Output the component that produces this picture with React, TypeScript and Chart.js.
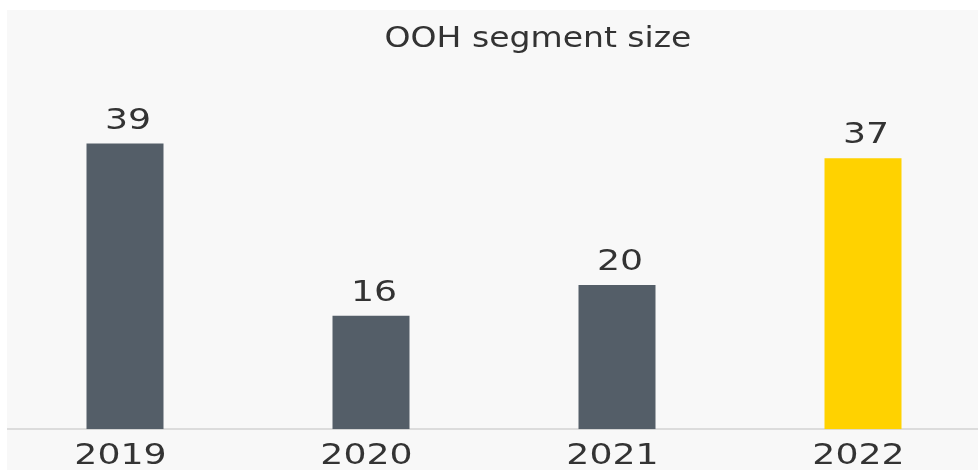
import React, { useEffect, useRef } from "react";
import { Chart, registerables } from "chart.js";

Chart.register(...registerables);

const categories = ["2019", "2020", "2021", "2022"];
const segmentSize = [39, 15.5, 19.7, 37];
const valueLabels = ["39", "16", "20", "37"];
const barColors = ["#545e68", "#545e68", "#545e68", "#ffd200"];
const chartTitle = "OOH segment size";

const FONT = "'DejaVu Sans', sans-serif";
const WIDE = 1.25;
const TITLE_WIDE = 1.18;

function wideText(ctx: any, text: string, x: number, y: number, k: number) {
  ctx.save();
  ctx.translate(x, y);
  ctx.scale(k, 1);
  ctx.fillText(text, 0, 0);
  ctx.restore();
}

const titlePlugin = {
  id: "customTitle",
  afterDraw(chart: any) {
    const ctx = chart.ctx;
    ctx.save();
    ctx.font = `28px ${FONT}`;
    ctx.fillStyle = "#333333";
    ctx.textAlign = "center";
    ctx.textBaseline = "alphabetic";
    wideText(ctx, chartTitle, chart.width / 2 + 44, 37, TITLE_WIDE);
    ctx.restore();
  },
};

const labelsPlugin = {
  id: "wideLabels",
  afterDatasetsDraw(chart: any) {
    const ctx = chart.ctx;
    const meta = chart.getDatasetMeta(0);
    const xScale = chart.scales.x;
    ctx.save();
    ctx.font = `29px ${FONT}`;
    ctx.fillStyle = "#333333";
    ctx.textAlign = "center";
    ctx.textBaseline = "alphabetic";
    meta.data.forEach((bar: any, i: number) => {
      wideText(ctx, valueLabels[i], bar.x + 3, bar.y - 15, WIDE);
    });
    categories.forEach((c, i) => {
      wideText(ctx, c, xScale.getPixelForTick(i) - 4.5, chart.chartArea.bottom + 35, WIDE);
    });
    ctx.restore();
  },
};

export default function App() {
  const canvasRef = useRef<HTMLCanvasElement | null>(null);

  useEffect(() => {
    if (!canvasRef.current) return;
    const chart = new Chart(canvasRef.current, {
      type: "bar",
      data: {
        labels: categories,
        datasets: [
          {
            data: segmentSize,
            backgroundColor: barColors,
            categoryPercentage: 1,
            barPercentage: 0.313,
          },
        ],
      },
      options: {
        animation: false,
        responsive: false,
        maintainAspectRatio: false,
        layout: { padding: { top: 53, left: 0, right: 0, bottom: 0 } },
        plugins: {
          legend: { display: false },
          title: { display: false },
          tooltip: { enabled: false },
        },
        scales: {
          x: {
            grid: { display: false },
            border: { display: true, color: "#dcdcdc", width: 2 },
            ticks: {
              color: "rgba(0,0,0,0)",
              font: { family: FONT, size: 29 },
              padding: 0,
              autoSkip: false,
              maxRotation: 0,
            },
          },
          y: {
            display: false,
            min: 0,
            max: 50,
          },
        },
      },
      plugins: [titlePlugin, labelsPlugin],
    });
    return () => chart.destroy();
  }, []);

  return (
    <div
      style={{
        position: "absolute",
        left: 7,
        top: 10,
        width: 971,
        height: 460,
        background: "#f8f8f8",
        overflow: "hidden",
      }}
    >
      <canvas
        ref={canvasRef}
        width={984}
        height={462}
        style={{ position: "absolute", left: -5, top: 0, width: 984, height: 462 }}
      />
    </div>
  );
}
